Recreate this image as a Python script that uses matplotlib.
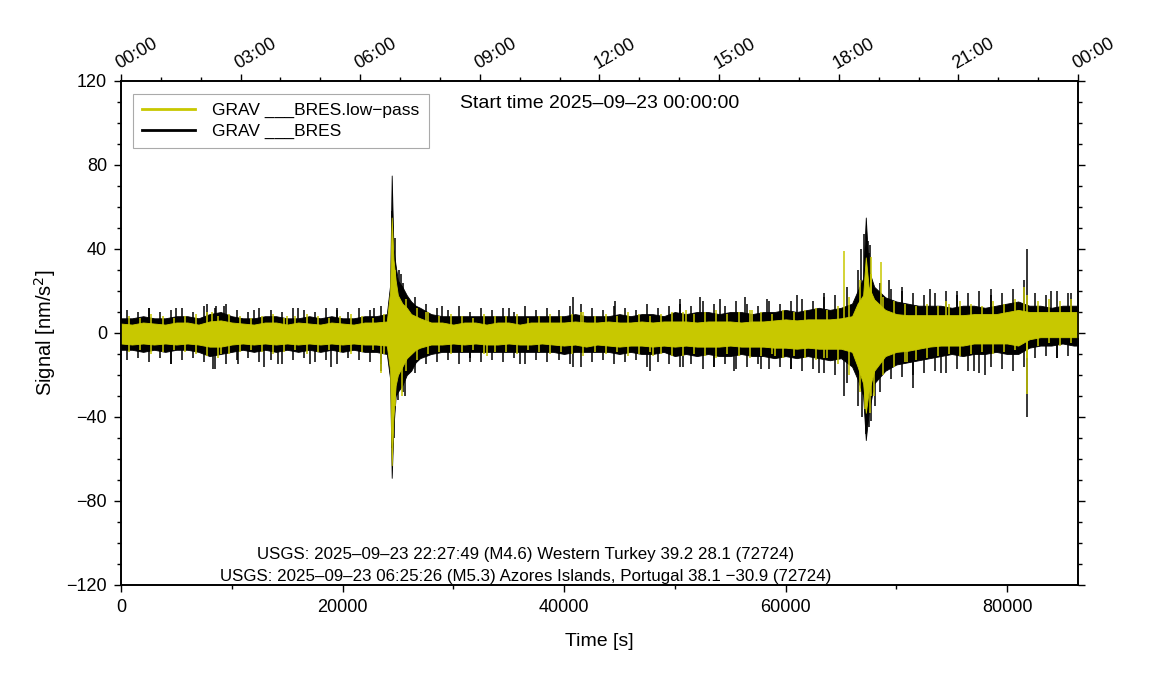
import numpy as np
import matplotlib
matplotlib.use('Agg')
import matplotlib.pyplot as plt
from matplotlib.ticker import MultipleLocator

plt.rcParams['font.family'] = ['Liberation Sans', 'DejaVu Sans']

#Envelope sample times [s] (denser around the two events)
t_s = ([0, 1000, 2000, 3000, 4000, 5000, 6000, 7000, 8000, 9000, 10000, 11000,
        12000, 13000, 14000, 15000, 16000, 17000, 18000, 19000, 20000, 21000, 22000,
        23000, 24000]
       + [24300, 24440, 24600, 24800, 25000, 25400, 25800, 26200, 26600, 27000]
       + [28000, 29000, 30000, 31000, 32000, 33000, 34000, 35000, 36000, 37000, 38000,
          39000, 40000, 41000, 42000, 43000, 44000, 45000, 46000, 47000, 48000, 49000,
          50000, 51000, 52000, 53000, 54000, 55000, 56000, 57000, 58000, 59000, 60000,
          61000, 62000, 63000, 64000, 65000, 66000]
       + [66500, 67000, 67240, 67500]
       + [68000, 69000, 70000, 71000, 72000, 73000, 74000, 75000, 76000, 77000, 78000,
          79000, 80000, 81000, 82000, 83000, 84000, 85000, 86000, 86400])

#Raw trace, dense body (black)
raw_hi = ([7, 7, 8, 7, 7, 8, 8, 7, 9, 10, 8, 7, 7, 8, 8, 7, 7, 8, 7, 8, 7, 7, 8, 8, 9]
          + [23, 75, 40, 32, 25, 22, 18, 15, 13, 12]
          + [9, 8, 8, 8, 8, 8, 8, 8, 8, 8, 8, 8,
             8, 9, 8, 8, 8, 9, 8, 9, 9, 8,
             10, 9, 10, 10, 9, 10, 10, 9, 10, 10,
             11, 10, 11, 12, 11, 12, 14]
          + [20, 26, 55, 30]
          + [22, 17, 15, 14, 13, 13, 13, 12, 13, 13, 12, 13, 14, 15, 13, 13, 12, 13, 13, 13])
raw_lo = ([-8, -8, -9, -8, -9, -8, -8, -9, -11, -10, -9, -8, -9, -8, -9, -8, -9, -8, -9, -8,
           -9, -8, -9, -9, -10]
          + [-22, -69, -45, -30, -28, -25, -20, -18, -14, -12]
          + [-10, -9, -9, -9, -9, -9, -9, -9, -9, -9, -9, -9,
             -10, -9, -9, -9, -9, -10, -9, -10, -10, -9,
             -11, -10, -11, -10, -11, -11, -10, -11, -11, -12,
             -11, -12, -11, -12, -13, -12, -16]
          + [-22, -30, -51, -38]
          + [-24, -18, -15, -14, -13, -12, -11, -10, -11, -10, -10, -9, -10, -10, -7, -6, -6,
             -5, -6, -6])

#Low-pass trace, dense body (yellow)
lp_hi = ([4.5, 4, 5, 4.5, 4, 5, 5, 4, 5.5, 6, 5, 4.5, 4, 5, 5, 4, 5, 4.5, 4, 5, 4.5, 4, 5, 5, 5.5]
         + [20, 55, 35, 25, 18, 14, 12, 9, 8, 7]
         + [5, 5, 4, 5, 5, 4, 5, 5, 4, 5, 5, 5,
            5, 5.5, 5, 5, 5.5, 5, 5, 5.5, 5, 5.5,
            5.5, 5.5, 5, 5.5, 5.5, 5.5, 5, 5.5, 5.5, 6,
            6.5, 6, 6.5, 6.5, 6.5, 7, 8]
         + [14, 18, 36, 22]
         + [16, 11, 9, 8.5, 8.5, 8.5, 8.5, 8.5, 8.5, 9, 9, 9, 10, 11, 10, 10, 10, 10, 10, 10])
lp_lo = ([-5, -5.5, -5, -5.5, -5, -5.5, -5, -5.5, -6.5, -6.5, -5.5, -5, -5.5, -5, -5.5, -5,
          -5.5, -5, -5.5, -5, -5.5, -5, -5.5, -5.5, -6]
         + [-18, -63, -40, -25, -20, -16, -12, -10, -8, -7]
         + [-5.5, -5.5, -5, -5.5, -5, -5.5, -5.5, -5, -5.5, -5.5, -5, -5.5,
            -6, -5.5, -6.5, -5.5, -6, -6.5, -6, -6, -6.5, -6,
            -6.5, -6, -6.5, -6.5, -6.5, -6, -6.5, -6.5, -6.5, -7,
            -7, -7.5, -7, -7.5, -7.5, -7.5, -9]
         + [-16, -24, -38, -28]
         + [-18, -11, -9, -8.5, -7.5, -6.5, -6, -6, -6, -5, -5, -5, -5, -6, -3, -2, -2, -2, -2, -2])

#Local peaks of the raw trace, one per 1000 s window (centre at 500 s)
peak_t = [500 + 1000 * k for k in range(86)]
raw_peak_hi = ([11, 10, 12, 10, 11, 12, 10, 13, 12, 14, 11, 10, 12, 11, 10, 12, 11, 10, 12, 11,
                10, 12, 11, 13]
               + [58, 24, 17, 14]
               + [12, 11, 13, 10, 12, 11, 12, 10, 13, 11, 12, 11, 13, 14, 12, 11, 13, 12, 11, 14,
                  12, 13]
               + [14, 13, 15, 14, 13, 15, 14, 13, 15, 14, 15, 16, 15, 17]
               + [18, 22, 30, 38, 24, 21]
               + [20, 19, 18, 19, 20, 18, 19, 20, 18, 19, 21, 25, 19, 18, 20, 19])
raw_peak_lo = ([-13, -12, -14, -12, -15, -13, -12, -14, -17, -15, -13, -12, -14, -13, -15, -13,
                -12, -14, -13, -15, -12, -13, -14, -15]
               + [-55, -28, -19, -15]
               + [-14, -13, -15, -12, -14, -13, -14, -12, -15, -13, -14, -13, -15, -16, -14, -13,
                  -15, -14, -13, -16, -14, -15]
               + [-16, -15, -17, -16, -15, -17, -16, -15, -17, -16, -17, -18, -17, -19]
               + [-20, -24, -35, -45, -28, -22]
               + [-21, -20, -19, -18, -19, -17, -18, -19, -16, -17, -18, -16, -12, -11, -12, -11])

#Local peaks of the low-pass trace, one per 1000 s window (centre at 750 s)
lp_peak_t = [750 + 1000 * k for k in range(86)]
lp_peak_hi = ([8, 7, 9, 8, 7, 8, 9, 10, 8, 9, 8, 7, 8, 9, 7, 8, 9, 8, 7, 8, 9, 8, 7, 9]
              + [30, 16, 12, 10]
              + [8, 9, 8, 7, 9, 8, 8, 9, 7, 8, 9, 8, 9, 10, 8, 9, 8, 10, 9, 8, 9, 10]
              + [10, 9, 10, 11, 9, 10, 11, 10, 9, 11, 10, 11, 12, 11]
              + [13, 17, 25, 28, 17, 15]
              + [14, 13, 14, 13, 14, 15, 14, 13, 15, 14, 16, 18, 15, 16, 15, 16])
lp_peak_lo = ([-9, -8, -10, -9, -8, -9, -10, -11, -12, -10, -9, -8, -9, -10, -9, -8, -10, -9,
               -8, -9, -10, -9, -8, -10]
              + [-35, -18, -13, -10]
              + [-9, -10, -9, -8, -10, -9, -9, -10, -8, -9, -10, -9, -10, -11, -9, -10, -9, -11,
                 -10, -9, -10, -11]
              + [-11, -10, -11, -12, -10, -11, -12, -11, -10, -12, -11, -12, -13, -12]
              + [-15, -20, -28, -30, -20, -16]
              + [-14, -13, -12, -11, -10, -11, -10, -9, -10, -9, -8, -12, -6, -5, -6, -5])

#Isolated spikes
raw_up_t = [2500, 5000, 7800, 8600, 9300, 12000, 16000, 19500, 22800, 24700, 25100, 25300,
            29000, 35000, 40800, 44600, 50500, 52300, 54100, 56300, 58300, 61000, 63500,
            66800, 67100, 67400, 67600, 69300, 70500, 73000, 75500, 78500, 81800, 84000, 85800]
raw_up_v = [12, 12, 14, 13, 13, 11, 12, 12, 12, 45, 30, 28,
            13, 12, 17, 15, 16, 17, 16, 17, 16, 18, 19,
            40, 47, 44, 42, 25, 22, 21, 20, 21, 40, 20, 19]
raw_dn_t = [4500, 8300, 10600, 12900, 14200, 17100, 19000, 23500, 24650, 25050, 25600,
            31500, 36000, 40800, 47800, 50700, 53500, 55300, 57800, 60500, 63000, 65300,
            66900, 67300, 67700, 68100, 71500, 74000, 77000, 78000, 81800, 84500]
raw_dn_v = [-15, -17, -15, -16, -15, -15, -16, -18, -50, -32, -30,
            -14, -15, -16, -18, -16, -16, -18, -17, -17, -19, -30,
            -40, -48, -42, -35, -26, -19, -18, -20, -40, -12]
lp_up_t = [8200, 15000, 27500, 41500, 51000, 57000, 65300, 67700, 68600, 74500, 81500]
lp_up_v = [10, 8, 10, 10, 11, 11, 39, 36, 34, 15, 22]
lp_dn_t = [23500, 9000, 25400, 33000, 48000, 59000, 63500, 67200, 67600, 68000, 71000, 81800]
lp_dn_v = [-19, -10, -30, -11, -11, -11, -12, -36, -38, -30, -14, -29]

hour_ticks = [0, 10800, 21600, 32400, 43200, 54000, 64800, 75600, 86400]
hour_labels = ['00:00', '03:00', '06:00', '09:00', '12:00', '15:00', '18:00', '21:00', '00:00']

label_raw = 'GRAV ___BRES'
label_lp = 'GRAV ___BRES.low\u2212pass'
start_text = 'Start time 2025\u201309\u201323 00:00:00'
usgs_lines = ['USGS: 2025\u201309\u201323 22:27:49 (M4.6) Western Turkey 39.2 28.1 (72724)',
              'USGS: 2025\u201309\u201323 06:25:26 (M5.3) Azores Islands, Portugal 38.1 \u221230.9 (72724)']

yellow = '#c8c800'

fig = plt.figure(figsize=(11.51, 7.0), dpi=100)
ax = fig.add_axes([0.1051, 0.1643, 0.8315, 0.72])

#Raw trace (drawn first, low-pass goes on top)
ax.fill_between(t_s, raw_lo, raw_hi, color='black', lw=0.6, zorder=1)
ax.vlines(peak_t, raw_peak_lo, raw_peak_hi, color='black', lw=1.1, zorder=2)
ax.vlines(raw_up_t, 0, raw_up_v, color='black', lw=1.1, zorder=2)
ax.vlines(raw_dn_t, 0, raw_dn_v, color='black', lw=1.1, zorder=2)
#Low-pass trace
ax.fill_between(t_s, lp_lo, lp_hi, color=yellow, lw=0.6, zorder=3)
ax.vlines(lp_peak_t, lp_peak_lo, lp_peak_hi, color=yellow, lw=1.1, zorder=4)
ax.vlines(lp_up_t, 0, lp_up_v, color=yellow, lw=1.1, zorder=4)
ax.vlines(lp_dn_t, 0, lp_dn_v, color=yellow, lw=1.1, zorder=4)

#Legend handles
ax.plot([], [], color=yellow, lw=2, label=label_lp)
ax.plot([], [], color='black', lw=2, label=label_raw)
leg = ax.legend(loc='upper left', bbox_to_anchor=(0.0125, 0.975), fontsize=12.5,
                fancybox=False, framealpha=1, edgecolor='#aaaaaa', handlelength=3.0,
                handletextpad=1.0, borderpad=0.55, labelspacing=0.3, borderaxespad=0)
leg.get_frame().set_linewidth(0.8)
leg.set_zorder(10)

ax.text(0.354, 0.955, start_text, transform=ax.transAxes, fontsize=14, va='center', ha='left')
ax.text(0.423, 0.060, usgs_lines[0], transform=ax.transAxes, fontsize=12.2, ha='center', va='center')
ax.text(0.423, 0.016, usgs_lines[1], transform=ax.transAxes, fontsize=12.2, ha='center', va='center')

ax.set_xlim(0, 86400)
ax.set_ylim(-120, 120)
ax.yaxis.set_major_locator(MultipleLocator(40))
ax.yaxis.set_minor_locator(MultipleLocator(10))
ax.xaxis.set_major_locator(MultipleLocator(20000))
ax.xaxis.set_minor_locator(MultipleLocator(10000))
ax.tick_params(which='both', direction='out', right=True, labelsize=13, width=1.0)
ax.tick_params(which='major', length=5, pad=5)
ax.tick_params(which='minor', length=3)
ax.set_xlabel('Time [s]', fontsize=14, labelpad=12)
ax.set_ylabel('Signal [nm/s$^2$]', fontsize=14.5, labelpad=6)
for sp in ax.spines.values():
    sp.set_linewidth(1.2)

#Top time-of-day axis
ax_top = ax.twiny()
ax_top.set_xlim(0, 86400)
ax_top.set_xticks(hour_ticks)
ax_top.set_xticklabels(hour_labels, rotation=30, ha='left', rotation_mode='anchor')
ax_top.xaxis.set_minor_locator(MultipleLocator(3600))
ax_top.tick_params(which='both', direction='out', labelsize=13, width=1.0)
ax_top.tick_params(which='major', length=5, pad=1)
ax_top.tick_params(which='minor', length=3)
for sp in ax_top.spines.values():
    sp.set_linewidth(1.2)

fig.savefig('out.png', dpi=100)
